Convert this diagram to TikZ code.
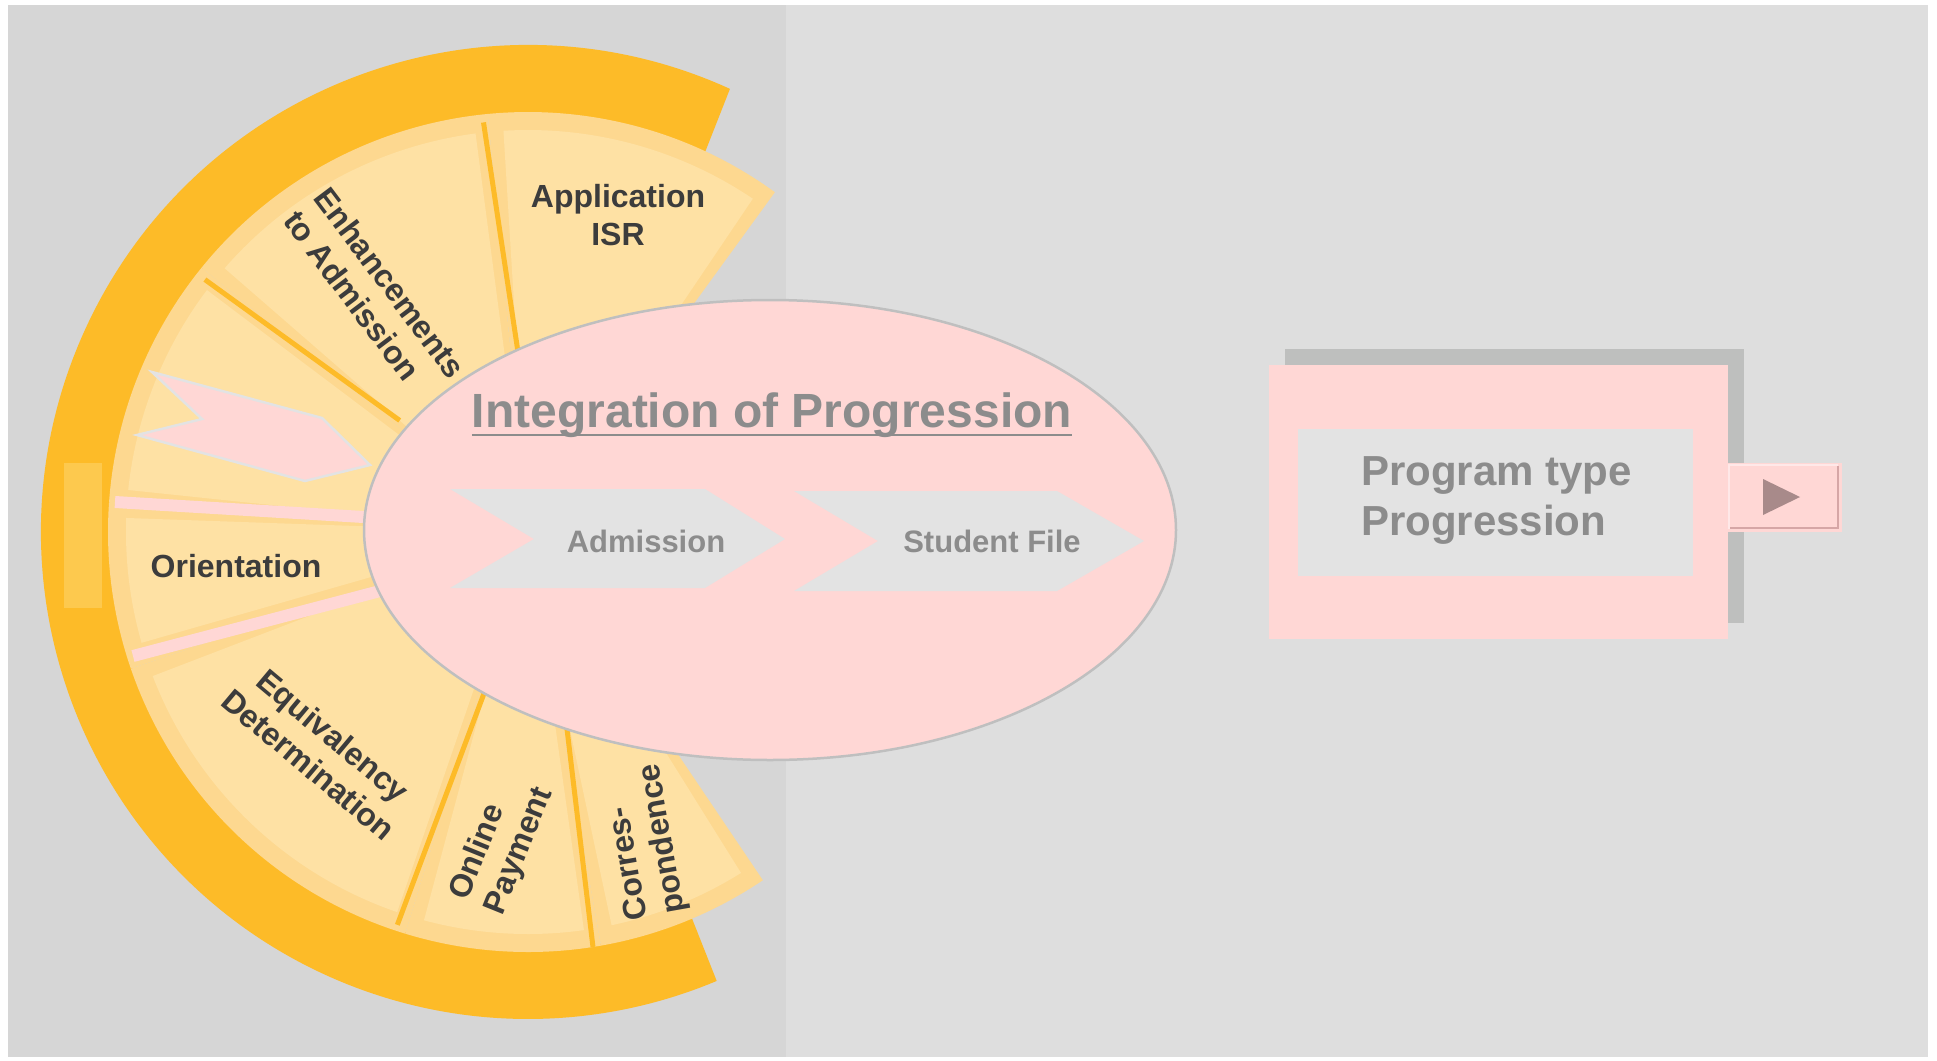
\documentclass[tikz,border=0pt]{standalone}
\usepackage{fontspec}
\setmainfont{Liberation Sans}
\usepackage{tikz}

\definecolor{panelleft}{HTML}{D6D6D6}
\definecolor{panelright}{HTML}{DEDEDE}
\definecolor{ringorange}{HTML}{FDBB28}
\definecolor{ringlight}{HTML}{FDC94E}
\definecolor{segdark}{HTML}{FDD890}
\definecolor{seglight}{HTML}{FEE1A4}
\definecolor{blush}{HTML}{FFD7D5}
\definecolor{rimgray}{HTML}{BFBFBF}
\definecolor{chevgray}{HTML}{E3E3E3}
\definecolor{fontgray}{HTML}{8C8C8C}
\definecolor{labeldark}{HTML}{3C3C3C}
\definecolor{shadowgray}{HTML}{BEBFBE}
\definecolor{tabdark}{HTML}{D6A6A6}
\definecolor{tablight}{HTML}{FFE8E8}
\definecolor{tabtri}{HTML}{A88A8A}

\begin{document}
\begin{tikzpicture}[x=1pt,y=-1pt,
	seglabel/.style={text=labeldark,inner sep=0pt,font=\bfseries\fontsize{32}{38}\selectfont},
	chevtext/.style={text=fontgray,inner sep=0pt,font=\bfseries\fontsize{31}{37}\selectfont},
	titletext/.style={text=fontgray,inner sep=0pt,font=\bfseries\fontsize{48}{58}\selectfont},
	boxtext/.style={text=fontgray,inner sep=0pt,align=left,font=\bfseries\fontsize{42}{50}\selectfont},
	divider/.style={ringorange,line width=5pt},
	band/.style={blush,line width=12pt}]
	\useasboundingbox (0,0) rectangle (1937,1060);
	
	% draw panels
	\fill[panelleft] (8,5) rectangle (786,1057);
	\fill[panelright] (786,5) rectangle (1928,1057);
	
	\begin{scope}[shift={(528,532)}]
		% draw ring
		\fill[ringorange] (-65.5:487) arc[start angle=-65.5, end angle=-292.8, radius=487]
			-- (-293:418) arc[start angle=-293, end angle=-65, radius=418] -- cycle;
		
		%draw sectors
		\fill[segdark] (0,0) -- (-54:420) arc[start angle=-54, end angle=-95.5, radius=420] -- cycle;
		\fill[seglight] (0,0) -- (-56:402) arc[start angle=-56, end angle=-93.5, radius=402] -- cycle;
		\fill[segdark] (0,0) -- (-95.5:420) arc[start angle=-95.5, end angle=-141, radius=420] -- cycle;
		\fill[seglight] (0,0) -- (-97.5:402) arc[start angle=-97.5, end angle=-139, radius=402] -- cycle;
		\fill[segdark] (0,0) -- (-141:420) arc[start angle=-141, end angle=-176, radius=420] -- cycle;
		\fill[seglight] (0,0) -- (-143:402) arc[start angle=-143, end angle=-174, radius=402] -- cycle;
		\fill[segdark] (0,0) -- (-176:420) arc[start angle=-176, end angle=-199, radius=420] -- cycle;
		\fill[seglight] (0,0) -- (-178:402) arc[start angle=-178, end angle=-196, radius=402] -- cycle;
		\fill[segdark] (0,0) -- (-199:420) arc[start angle=-199, end angle=-253, radius=420] -- cycle;
		\fill[seglight] (0,0) -- (-201:402) arc[start angle=-201, end angle=-251, radius=402] -- cycle;
		\fill[segdark] (0,0) -- (-253:420) arc[start angle=-253, end angle=-280, radius=420] -- cycle;
		\fill[seglight] (0,0) -- (-255:402) arc[start angle=-255, end angle=-278, radius=402] -- cycle;
		\fill[segdark] (0,0) -- (-280:420) arc[start angle=-280, end angle=-304, radius=420] -- cycle;
		\fill[seglight] (0,0) -- (-282:402) arc[start angle=-282, end angle=-302, radius=402] -- cycle;
		
		% dividers
		\draw[divider] (-96.2:412) -- (-92.5:160);
		\draw[divider] (-142:410) -- (-139:170);
		\draw[divider] (-251.6:414) -- (-255:160);
		\draw[divider] (-278.9:420) -- (-282:170);
	\end{scope}
	\fill[ringlight] (64,463) rectangle (102,608);
	
	% pink gaps and arrow
	\draw[band] (115,502) -- (380,518);
	\draw[band] (133,656) -- (380,591);
	\filldraw[fill=blush,draw=chevgray,line width=2.5pt,line join=miter]
		(152,372) -- (322,418) -- (370,465) -- (305,481) -- (137,435) -- (202,419) -- cycle;
	
	% draw ellipse
	\filldraw[fill=blush,draw=rimgray,line width=2.5pt] (770,530) ellipse[x radius=406, y radius=230];
	\fill[chevgray] (450,489) -- (705,489) -- (785,539) -- (705,588) -- (450,588) -- (534,539) -- cycle;
	\fill[chevgray] (794,491) -- (1057,491) -- (1144,541) -- (1057,591) -- (794,591) -- (878,541) -- cycle;
	
	% draw nodes
	\node[titletext,anchor=base] (ttl) at (772,427) {Integration of Progression};
	\draw[fontgray,line width=2.6pt] ([yshift=-8pt]ttl.base west) -- ([yshift=-8pt]ttl.base east);
	\node[chevtext] (adm) at (646,541) {Admission};
	\node[chevtext] (sfile) at (992,541) {Student File};
	
	\node[seglabel,align=center] (appl) at (618,215) {Application\\ISR};
	\node[seglabel,align=left,rotate=-53] (enh) at (375,294) {Enhancements\\to Admission};
	\node[seglabel] (orient) at (236,566) {Orientation};
	\node[seglabel,align=center,rotate=-40] (equiv) at (321,750) {Equivalency\\Determination};
	\node[seglabel,align=left,rotate=68] (onpay) at (502,844) {Online\\Payment};
	\node[seglabel,align=left,rotate=100] (corr) at (645,842) {Corres-\\pondence};
	
	%%%box with tab
	\fill[shadowgray] (1285,349) rectangle (1744,623);
	\fill[blush] (1269,365) rectangle (1728,639);
	\fill[chevgray] (1298,429) rectangle (1693,576);
	\node[boxtext,anchor=west] (ptype) at (1361,500) {Program type\\Progression};
	\fill[blush] (1727,463) rectangle (1842,532);
	\draw[tablight,line width=1.5pt] (1729,529) -- (1729,465) -- (1838,465);
	\draw[tabdark,line width=2pt] (1730,528) -- (1838,528) -- (1838,466);
	\fill[tabtri] (1763,479) -- (1800,497) -- (1763,515) -- cycle;
\end{tikzpicture}
\end{document}
